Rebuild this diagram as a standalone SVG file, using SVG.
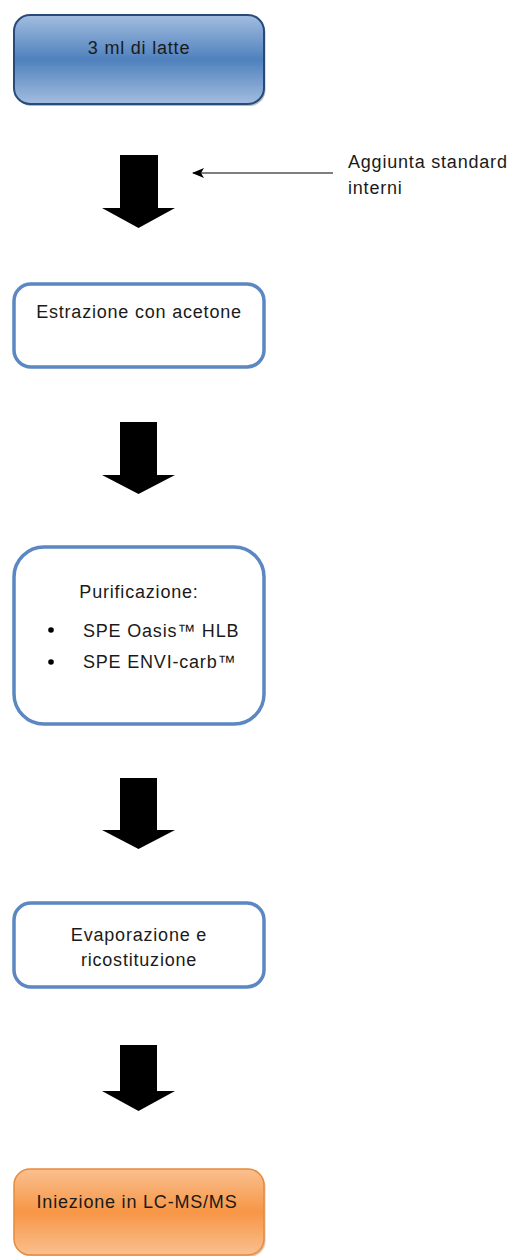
<svg xmlns="http://www.w3.org/2000/svg" width="517" height="1256" viewBox="0 0 517 1256">
<defs>
<linearGradient id="gBlue" x1="0" y1="0" x2="0" y2="1">
<stop offset="0" stop-color="#a3bde0"/>
<stop offset="0.5" stop-color="#4f81bd"/>
<stop offset="1" stop-color="#a3bde0"/>
</linearGradient>
<linearGradient id="gOrange" x1="0" y1="0" x2="0" y2="1">
<stop offset="0" stop-color="#fac08f"/>
<stop offset="0.5" stop-color="#f79646"/>
<stop offset="1" stop-color="#fac08f"/>
</linearGradient>
<marker id="ah" markerWidth="12" markerHeight="10" refX="11" refY="5" orient="auto" markerUnits="userSpaceOnUse">
<path d="M0,0 L12,5 L0,10 L3,5 Z" fill="#000"/>
</marker>
</defs>
<style>
text{font-family:"Liberation Sans",Arial,sans-serif;font-size:18px;letter-spacing:0.8px;fill:#1a1a1a}
.c{text-anchor:middle}
.box{fill:#fff;stroke:#5b87c2;stroke-width:3.5}
.big{fill:#000}
</style>
<g id="n1">
<rect x="14" y="15" width="250" height="89" rx="16" fill="#1f3a5f" opacity="0.35" transform="translate(1.5,2)"/>
<rect x="14" y="15" width="250" height="89" rx="16" fill="url(#gBlue)" stroke="#274b78" stroke-width="2"/>
<text class="c" x="139" y="54">3 ml di latte</text>
</g>
<g id="n2">
<rect class="box" x="14" y="284" width="250" height="83" rx="17"/>
<text class="c" x="139" y="318">Estrazione con acetone</text>
</g>
<g id="n3">
<rect class="box" x="14" y="547" width="250" height="177" rx="30"/>
<text class="c" x="139" y="598">Purificazione:</text>
<circle cx="51" cy="630" r="2.8" fill="#000"/>
<circle cx="51" cy="662" r="2.8" fill="#000"/>
<text x="83" y="637">SPE Oasis™ HLB</text>
<text x="83" y="668">SPE ENVI-carb™</text>
</g>
<g id="n4">
<rect class="box" x="14" y="903" width="250" height="84" rx="17"/>
<text class="c" x="139" y="941">Evaporazione e</text>
<text class="c" x="139" y="966">ricostituzione</text>
</g>
<g id="n5">
<rect x="14" y="1169" width="250" height="86" rx="16" fill="#b35a14" opacity="0.35" transform="translate(1.5,2)"/>
<rect x="14" y="1169" width="250" height="86" rx="16" fill="url(#gOrange)" stroke="#e68a3c" stroke-width="1.5"/>
<text class="c" x="137" y="1208">Iniezione in LC-MS/MS</text>
</g>
<g id="label">
<text x="348" y="168">Aggiunta standard</text>
<text x="348" y="194">interni</text>
</g>
<g id="connectors">
<polygon class="big" points="120,155 158,155 158,208 175,208 138.5,228 102,208 120,208"/>
<polygon class="big" points="120,422 157,422 157,475 175,475 138.5,494 102,475 120,475"/>
<polygon class="big" points="120,778 157,778 157,830 175,830 138.5,849 102,830 120,830"/>
<polygon class="big" points="120,1045 157,1045 157,1091 175,1091 138.5,1111 102,1091 120,1091"/>
<line x1="333" y1="173" x2="193" y2="173" stroke="#000" stroke-width="1.2" marker-end="url(#ah)"/>
</g>
</svg>
